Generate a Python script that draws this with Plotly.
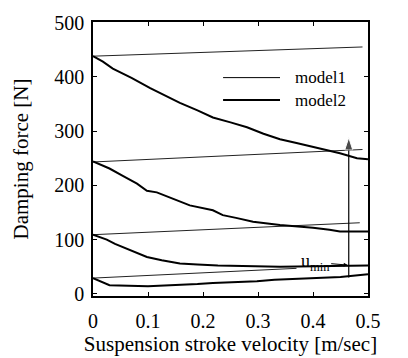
import plotly.graph_objects as go

# model1: thin straight lines (start/end values)
m1_x = [[0.0, 0.49], [0.0, 0.49], [0.0, 0.485], [0.0, 0.37]]
m1_y = [[438, 455], [243, 266], [109, 131], [29, 47]]

# model2: thick decreasing curves
m2a_x = [0.0, 0.018, 0.036, 0.07, 0.104, 0.13, 0.158, 0.19, 0.218, 0.25, 0.28, 0.31, 0.34, 0.37, 0.40, 0.425, 0.449, 0.48, 0.5]
m2a_y = [438, 428, 415, 398, 379, 366, 352, 338, 325, 316, 307, 295, 285, 278, 271, 265, 259, 250, 248]
m2b_x = [0.0, 0.03, 0.055, 0.08, 0.098, 0.116, 0.146, 0.176, 0.218, 0.236, 0.26, 0.291, 0.34, 0.40, 0.43, 0.449, 0.5]
m2b_y = [244, 231, 217, 203, 190, 187, 175, 163, 154, 145, 140, 133, 127, 122, 118, 115, 115]
m2c_x = [0.0, 0.012, 0.025, 0.04, 0.055, 0.075, 0.098, 0.125, 0.158, 0.19, 0.227, 0.34, 0.43, 0.5]
m2c_y = [109, 104, 100, 92, 86, 77, 68, 62, 56, 54, 52, 50, 51, 52]
m2d_x = [0.0, 0.015, 0.03, 0.1, 0.164, 0.19, 0.218, 0.298, 0.33, 0.40, 0.45, 0.5]
m2d_y = [29, 22, 16, 14, 16, 18, 20, 23, 26, 29, 31, 36]

x_ticks = [0, 0.1, 0.2, 0.3, 0.4, 0.5]
x_labels = ["0", "0.1", "0.2", "0.3", "0.4", "0.5"]
y_ticks = [0, 100, 200, 300, 400, 500]
y_labels = ["0", "100", "200", "300", "400", "500"]

u_min_x = 0.465
u_min_y_low = 30
u_min_y_high = 288

legend_names = ["model1", "model2"]

FONT = "Liberation Serif, Times New Roman, DejaVu Serif, serif"

fig = go.Figure()
for i, (xs, ys) in enumerate(zip(m1_x, m1_y)):
    fig.add_trace(go.Scatter(x=xs, y=ys, mode="lines", line=dict(color="#222", width=1),
                             name="model1", showlegend=False))
for i, (xs, ys) in enumerate([(m2a_x, m2a_y), (m2b_x, m2b_y), (m2c_x, m2c_y), (m2d_x, m2d_y)]):
    fig.add_trace(go.Scatter(x=xs, y=ys, mode="lines", line=dict(color="#000", width=2),
                             name="model2", showlegend=False))

# vertical arrow (u_min rising)
fig.add_trace(go.Scatter(x=[u_min_x, u_min_x], y=[u_min_y_low, u_min_y_high], mode="lines+markers",
                         line=dict(color="#000", width=1.2),
                         marker=dict(symbol=["circle", "arrow"], size=[0, 13], color="#000",
                                     angleref="previous"),
                         showlegend=False, hoverinfo="skip"))

# u_min label with arrow pointing to vertical line
fig.add_annotation(x=u_min_x - 0.002, y=53, ax=0.404, ay=58, xref="x", yref="y", axref="x", ayref="y",
                   text="u<sub>min</sub>", showarrow=True, arrowhead=2, arrowsize=0.8, arrowwidth=1,
                   arrowcolor="#000", font=dict(family=FONT, size=18, color="#000"))

# legend (drawn manually for long line samples)
leg_y = [0.797, 0.715]
leg_w = [1, 2]
for name, ly, lw in zip(legend_names, leg_y, leg_w):
    fig.add_shape(type="line", xref="paper", yref="paper", x0=0.473, x1=0.680, y0=ly, y1=ly,
                  line=dict(color="#000", width=lw))
    fig.add_annotation(xref="paper", yref="paper", x=0.727, y=ly, xanchor="left", yanchor="middle",
                       text=name, showarrow=False, font=dict(family=FONT, size=17, color="#000"))

fig.update_layout(
    width=408, height=358,
    margin=dict(l=93, r=40, t=17, b=60),
    paper_bgcolor="white", plot_bgcolor="white",
    font=dict(family=FONT, size=20, color="#000"),
    showlegend=False,
)
fig.update_xaxes(range=[0, 0.5], tickvals=x_ticks, ticktext=x_labels, showgrid=False, zeroline=False,
                 showline=True, linecolor="#000", linewidth=1.5, mirror="ticks", ticks="inside",
                 ticklen=4, tickcolor="#000", ticklabelstandoff=6,
                 tickfont=dict(family=FONT, size=20, color="#000"),
                 title=dict(text="Suspension stroke velocity [m/sec]",
                            font=dict(family=FONT, size=21, color="#000"), standoff=0))
fig.update_yaxes(range=[-4, 501], tickvals=y_ticks, ticktext=y_labels, showgrid=False, zeroline=False,
                 showline=True, linecolor="#000", linewidth=1.5, mirror="ticks", ticks="inside",
                 ticklen=4, tickcolor="#000", ticklabelstandoff=3,
                 tickfont=dict(family=FONT, size=20, color="#000"),
                 title=dict(text="Damping force [N]", font=dict(family=FONT, size=21, color="#000"),
                            standoff=20))

fig.write_html("out.html")
